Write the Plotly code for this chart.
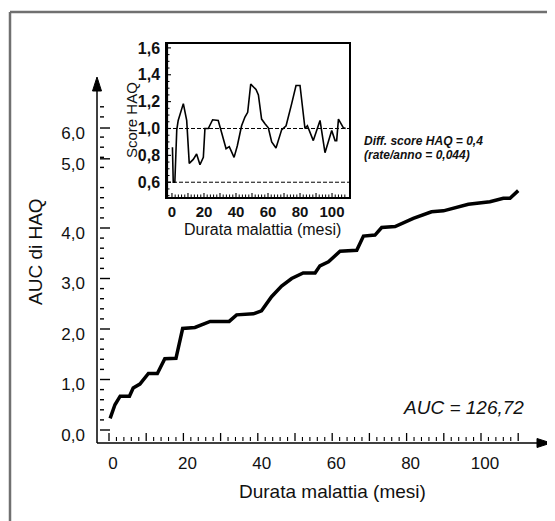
import plotly.graph_objects as go

# ---------------- data ----------------
main_months = [0.3, 1.6, 3.0, 5.5, 6.5, 8.3, 10.6, 13.0, 15.0, 18.0, 19.8, 23.1, 27.2, 32.3,
               34.3, 38.8, 41.0, 43.7, 46.4, 49.1, 52.2, 55.4, 56.7, 59.0, 62.1, 66.6, 68.4,
               71.5, 73.3, 76.9, 81.8, 86.7, 89.9, 96.6, 102.4, 106.0, 107.8, 110.0]
main_auc = [0.23, 0.50, 0.67, 0.67, 0.83, 0.91, 1.12, 1.12, 1.41, 1.42, 2.01, 2.03, 2.15, 2.15,
            2.28, 2.30, 2.36, 2.64, 2.85, 3.00, 3.11, 3.11, 3.25, 3.33, 3.54, 3.56, 3.84,
            3.86, 4.01, 4.03, 4.19, 4.32, 4.34, 4.47, 4.52, 4.59, 4.59, 4.74]

inset_months = [0.3, 0.8, 1.8, 3.0, 3.9, 7.1, 9.2, 10.8, 13.3, 15.4, 17.5, 19.6, 20.6, 22.7,
                25.4, 28.9, 31.0, 33.8, 35.8, 38.8, 40.8, 43.5, 45.6, 47.3, 49.2, 52.5, 54.0,
                56.0, 58.1, 60.2, 62.3, 65.0, 68.5, 71.3, 74.8, 77.5, 80.0, 82.1, 83.1, 84.6,
                88.3, 92.5, 95.6, 99.8, 101.9, 102.9, 104.0, 107.1, 108.5]
inset_haq = [0.86, 0.60, 0.60, 0.99, 1.06, 1.185, 1.06, 0.74, 0.77, 0.81, 0.73, 0.785, 1.0, 1.0,
             1.065, 1.06, 0.97, 0.85, 0.865, 0.785, 0.87, 1.02, 1.085, 1.12, 1.33, 1.29, 1.25,
             1.07, 1.035, 1.005, 0.90, 0.855, 0.99, 1.02, 1.185, 1.32, 1.32, 1.12, 1.0, 1.02,
             0.91, 1.06, 0.82, 0.985, 0.91, 0.91, 1.07, 1.005, 1.0]
inset_ref_levels = [1.0, 0.6]

main_x_ticks = [0, 10, 20, 30, 40, 50, 60, 70, 80, 90, 100, 110]
main_x_labels = ["0", "", "20", "", "40", "", "60", "", "80", "", "100", ""]
main_x_minor = [v for v in range(2, 110, 2) if v % 10 != 0]
main_y_ticks = [0, 1, 2, 3, 4, 5.37, 5.98]
main_y_labels = ["0,0", "1,0", "2,0", "3,0", "4,0", "5,0", "6,0"]
main_y_minor = [round(0.2 * k, 2) for k in range(1, 33) if k % 5 != 0]
inset_x_ticks = [0, 10, 20, 30, 40, 50, 60, 70, 80, 90, 100]
inset_x_labels = ["0", "", "20", "", "40", "", "60", "", "80", "", "100"]
inset_x_minor = [v for v in range(2, 110, 2) if v % 10 != 0]
inset_y_ticks = [0.6, 0.8, 1.0, 1.2, 1.4, 1.6]
inset_y_labels = ["0,6", "0,8", "1,0", "1,2", "1,4", "1,6"]
inset_y_minor = [round(0.5 + 0.05 * k, 2) for k in range(0, 23) if (k % 4) != 2]

# ---------------- layout helpers (page pixel coords; page has an 8px body margin) ----------------
OFF = 8
W_FIG, H_FIG = 555 - OFF, 521 - OFF
L, R, T, B = 97, 550, 30, 443
PW, PH = R - L, B - T
IN_L, IN_R, IN_T, IN_B = 167, 349, 44, 197


def px(x):
    return (x - L) / PW


def py(y):
    return (B - y) / PH


FONT = "Liberation Sans, Arial, sans-serif"
INK = "#111111"

fig = go.Figure()
fig.add_trace(go.Scatter(x=main_months, y=main_auc, mode="lines",
                         line=dict(color="black", width=3.5), showlegend=False,
                         xaxis="x", yaxis="y"))
fig.add_trace(go.Scatter(x=inset_months, y=inset_haq, mode="lines",
                         line=dict(color="black", width=1.6), showlegend=False,
                         xaxis="x2", yaxis="y2"))

common = dict(zeroline=False, showgrid=False, automargin=False, ticks="", tickmode="array")
fig.update_layout(
    template="none",
    width=W_FIG, height=H_FIG,
    margin=dict(l=L - OFF, r=(W_FIG + OFF) - R, t=T - OFF, b=(H_FIG + OFF) - B, pad=0),
    paper_bgcolor="white", plot_bgcolor="white",
    font=dict(family=FONT, color=INK),
    showlegend=False,
    xaxis=dict(range=[(L - 109) / 3.72, (R - 109) / 3.72], showline=False,
               tickvals=main_x_ticks, ticktext=main_x_labels,
               ticklabelshift=4, ticklabelstandoff=8,
               tickfont=dict(size=17, color=INK), **common),
    yaxis=dict(range=[(430 - B) / 50.5, (430 - T) / 50.5], showline=False,
               tickvals=main_y_ticks, ticktext=main_y_labels,
               ticklabelshift=5, ticklabelstandoff=11,
               tickfont=dict(size=17, color=INK), **common),
    xaxis2=dict(domain=[px(IN_L), px(IN_R)], anchor="y2", range=[-3.1, 110.6],
                showline=True, mirror=True, linecolor="black", linewidth=1.5,
                tickvals=inset_x_ticks, ticktext=inset_x_labels, ticklabelstandoff=0,
                tickfont=dict(size=15, color=INK, weight="bold"), **common),
    yaxis2=dict(domain=[py(IN_B), py(IN_T)], anchor="x2", range=[0.490, 1.629],
                showline=True, mirror=True, linecolor="black", linewidth=1.5,
                tickvals=inset_y_ticks, ticktext=inset_y_labels, ticklabelstandoff=2,
                tickfont=dict(size=16, color=INK, weight="bold"), **common),
)

shapes = []


def seg(xref, yref, x0, y0, x1, y1, w=1.3, color="black"):
    shapes.append(dict(type="line", xref=xref, yref=yref, x0=x0, y0=y0, x1=x1, y1=y1,
                       layer="above", line=dict(color=color, width=w)))


# outer gray frame (top and left edges visible)
seg("paper", "paper", px(10), py(12), px(600), py(12), 2.5, "#707070")
seg("paper", "paper", px(10), py(12), px(10), py(560), 2.5, "#707070")
# main axes with arrows
seg("paper", "paper", px(97), py(443), px(97), py(88), 1.5)
seg("paper", "paper", px(97), py(443), px(540), py(443), 1.5)
shapes.append(dict(type="path", xref="paper", yref="paper",
                   path=f"M {px(97)},{py(77)} L {px(92.5)},{py(91)} L {px(101.5)},{py(91)} Z",
                   fillcolor="black", line=dict(color="black", width=1)))
shapes.append(dict(type="path", xref="paper", yref="paper",
                   path=f"M {px(551)},{py(443)} L {px(537)},{py(438.5)} L {px(537)},{py(447.5)} Z",
                   fillcolor="black", line=dict(color="black", width=1)))
# main axis tick marks (placed through the axis scales)
for v in main_x_ticks:
    seg("x", "paper", v, py(441), v, py(433), 1.3)
for v in main_x_minor:
    seg("x", "paper", v, py(441), v, py(437), 1.1)
for v in main_y_ticks:
    seg("paper", "y", px(100), v, px(110), v, 1.4)
for v in main_y_minor:
    seg("paper", "y", px(100), v, px(104), v, 1.4)
# inset tick marks
in_w, in_h = IN_R - IN_L, IN_B - IN_T
for v in inset_x_ticks:
    seg("x2", "y2 domain", v, 0, v, 4 / in_h, 1.1)
for v in inset_x_minor:
    seg("x2", "y2 domain", v, 0, v, 2.5 / in_h, 1.0)
for v in inset_y_ticks:
    seg("x2 domain", "y2", 0, v, 4 / in_w, v, 1.1)
for v in inset_y_minor:
    seg("x2 domain", "y2", 0, v, 2.5 / in_w, v, 1.0)
# inset reference lines
for lvl in inset_ref_levels:
    shapes.append(dict(type="line", xref="x2 domain", yref="y2", x0=0, x1=1, y0=lvl, y1=lvl,
                       line=dict(color="black", width=1, dash="4px,2px")))
# thicker left border of the inset
seg("x2 domain", "y2 domain", 0, 0, 0, 1, 2.2)
fig.update_layout(shapes=shapes)

ann = [
    dict(text="AUC di HAQ", x=px(35), y=py(252), textangle=-90, font=dict(size=19)),
    dict(text="Durata malattia (mesi)", x=px(332), y=py(492), font=dict(size=19)),
    dict(text="Durata malattia (mesi)", x=px(262), y=py(230), font=dict(size=16)),
    dict(text="Score HAQ", x=px(131), y=py(120), textangle=-90, font=dict(size=15)),
    dict(text="AUC = 126,72", x=px(463), y=py(407), font=dict(size=19, style="italic")),
    dict(text="Diff. score HAQ = 0,4", x=px(362), y=py(141), xanchor="left",
         font=dict(size=12, style="italic", weight="bold")),
    dict(text="(rate/anno = 0,044)", x=px(362), y=py(155), xanchor="left",
         font=dict(size=12, style="italic", weight="bold")),
]
for a in ann:
    a.setdefault("xanchor", "center")
    a.update(xref="paper", yref="paper", yanchor="middle", showarrow=False)
    a["font"] = dict(family=FONT, color=INK, **a["font"])
    fig.add_annotation(**a)

fig.write_html("out.html")
